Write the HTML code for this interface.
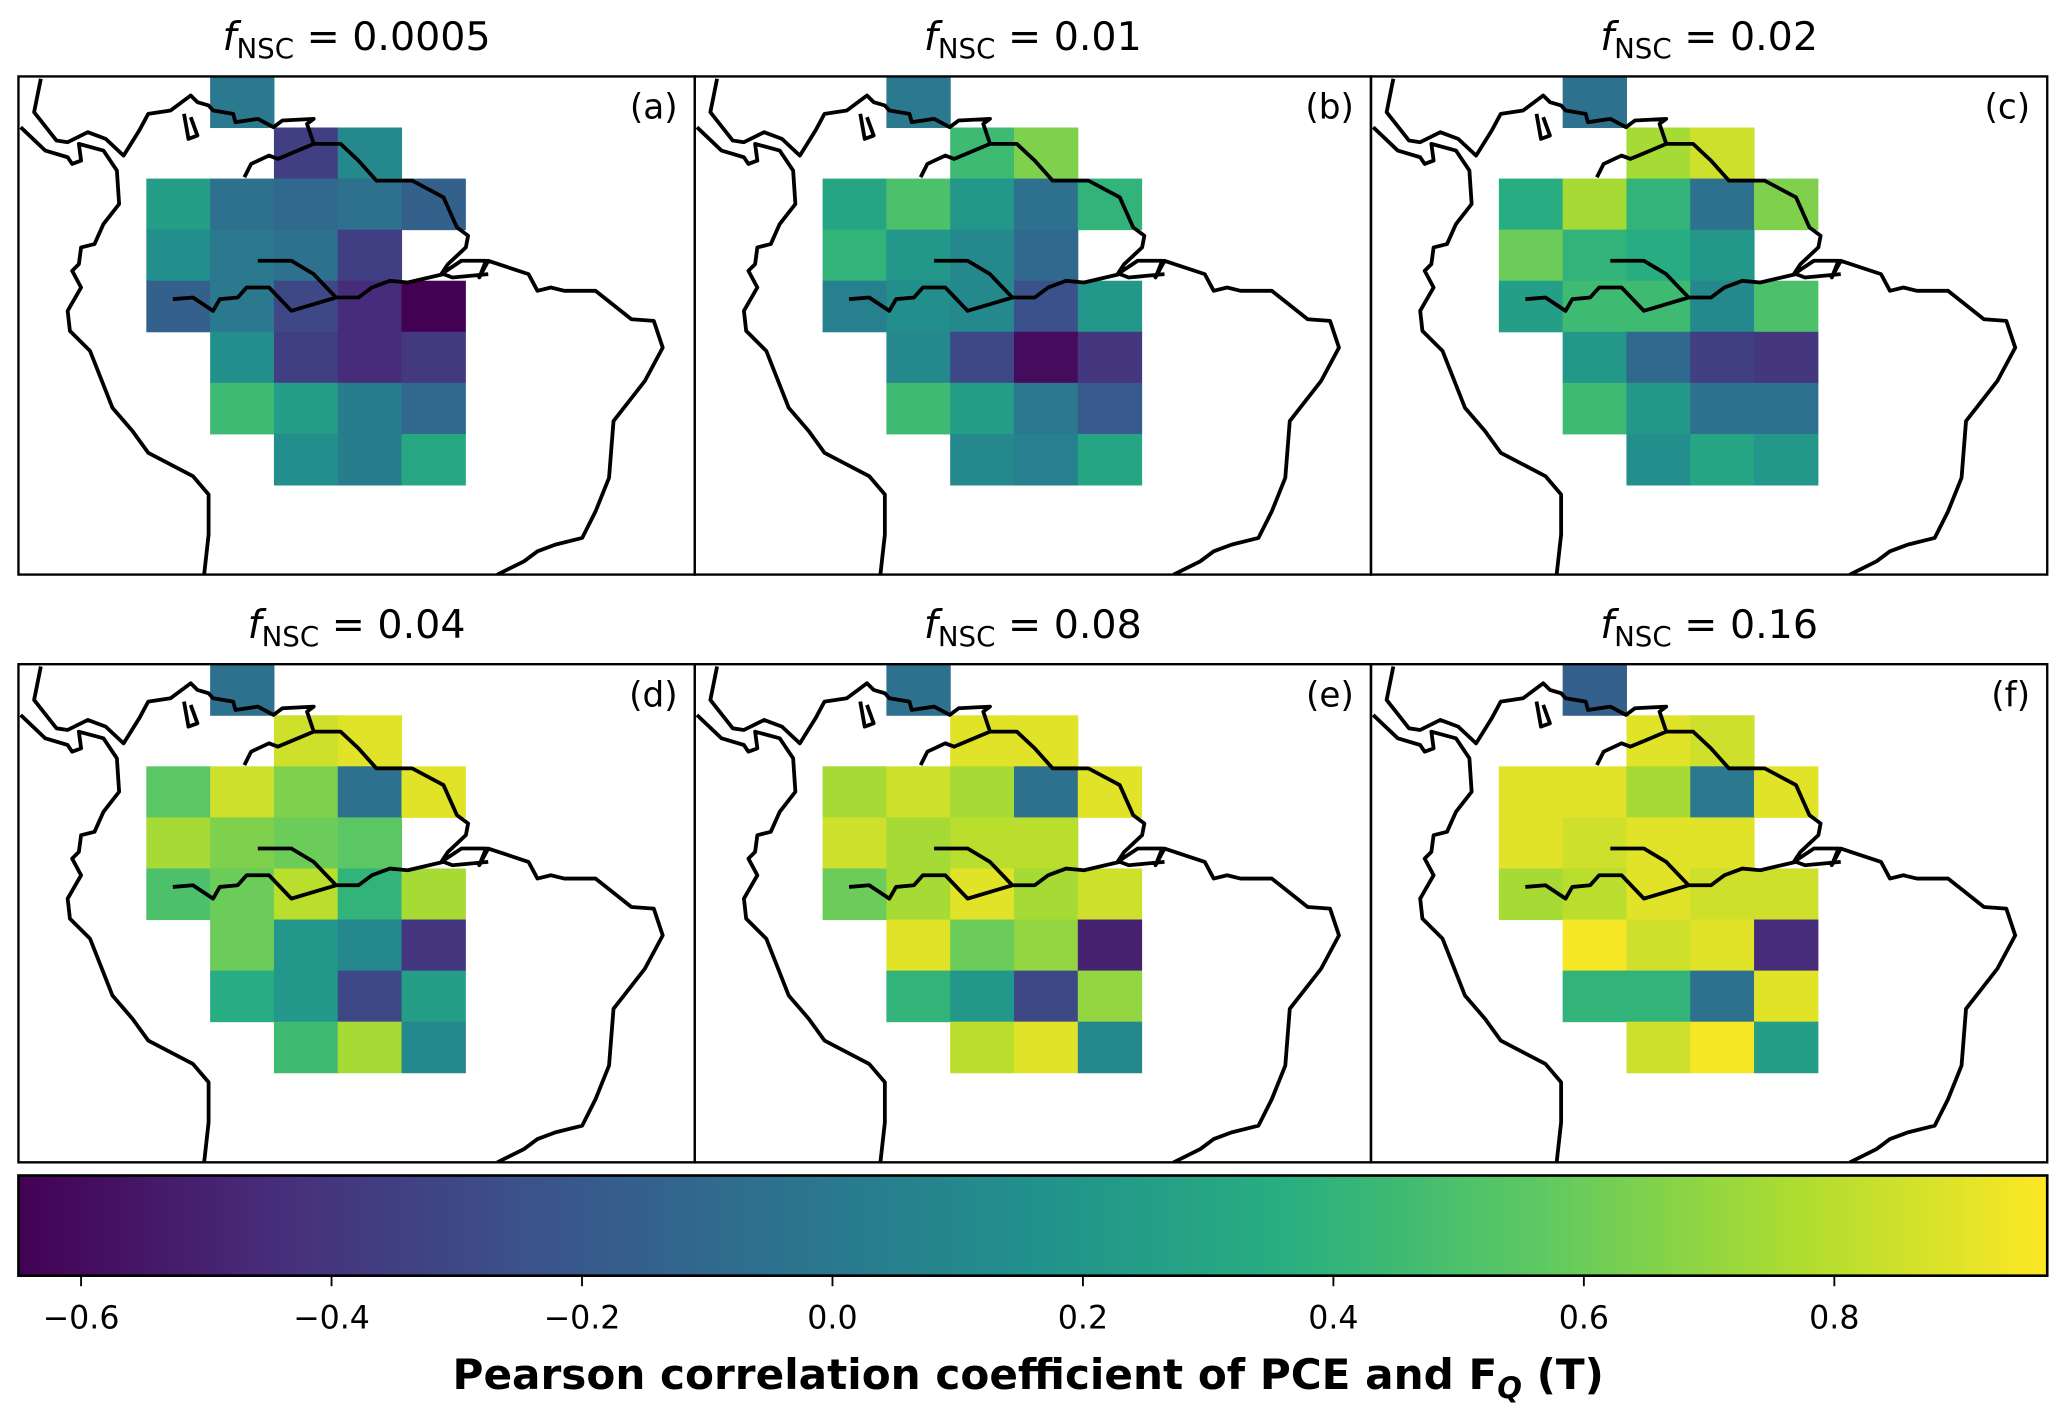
<!DOCTYPE html>
<html><head><meta charset="utf-8"><style>
html,body{margin:0;padding:0;background:#fff;}
svg{display:block;}
text{font-family:"DejaVu Sans","Liberation Sans",sans-serif;}
</style></head><body>
<svg id="fig" width="2067" height="1418" viewBox="0 0 1568 1076" preserveAspectRatio="none" xmlns="http://www.w3.org/2000/svg">
<defs>
<linearGradient id="vir" x1="0" x2="1" y1="0" y2="0">
<stop offset="0" stop-color="#440154"/><stop offset="0.125" stop-color="#472d7b"/><stop offset="0.25" stop-color="#3b528b"/><stop offset="0.375" stop-color="#2c728e"/><stop offset="0.5" stop-color="#21918c"/><stop offset="0.625" stop-color="#28ae80"/><stop offset="0.75" stop-color="#5ec962"/><stop offset="0.875" stop-color="#addc30"/><stop offset="1" stop-color="#fde725"/>
</linearGradient>
</defs>
<g id="panels"></g>
<g id="cbar"></g>
</svg>
<script>
const vmin=-0.65, vmax=0.97;
const panelTitles=["0.0005","0.01","0.02","0.04","0.08","0.16"];
const panelLabels=["(a)","(b)","(c)","(d)","(e)","(f)"];
// cell layout: row -> list of column indices
const rowCols=[[1],[2,3],[0,1,2,3,4],[0,1,2,3],[0,1,2,3,4],[1,2,3,4],[1,2,3,4],[2,3,4]];
const valsA=[[0.0],[-0.35,0.1],[0.25,-0.05,-0.1,-0.05,-0.15],[0.15,0.0,-0.05,-0.35],[-0.15,0.0,-0.3,-0.45,-0.65],[0.15,-0.35,-0.45,-0.38],[0.45,0.25,0.03,-0.1],[0.15,0.03,0.32]];
const valsB=[[0.0],[0.45,0.65],[0.3,0.5,0.2,-0.05,0.4],[0.4,0.2,0.1,-0.1],[0.05,0.15,0.1,-0.25,0.2],[0.1,-0.3,-0.6,-0.4],[0.45,0.25,0.0,-0.2],[0.1,0.05,0.3]];
const valsC=[[-0.05],[0.75,0.85],[0.35,0.75,0.4,-0.05,0.65],[0.6,0.4,0.35,0.2],[0.25,0.45,0.45,0.1,0.5],[0.2,-0.1,-0.35,-0.4],[0.45,0.2,-0.05,-0.05],[0.15,0.3,0.2]];
const valsD=[[-0.05],[0.85,0.9],[0.55,0.85,0.65,-0.05,0.9],[0.75,0.65,0.6,0.55],[0.5,0.6,0.8,0.4,0.75],[0.6,0.2,0.1,-0.4],[0.35,0.2,-0.3,0.25],[0.45,0.75,0.1]];
const valsE=[[-0.05],[0.9,0.9],[0.75,0.85,0.75,-0.05,0.9],[0.85,0.75,0.8,0.8],[0.6,0.75,0.9,0.75,0.85],[0.9,0.6,0.7,-0.5],[0.4,0.2,-0.3,0.7],[0.8,0.9,0.1]];
const valsF=[[-0.15],[0.9,0.85],[0.9,0.9,0.75,0.0,0.9],[0.9,0.85,0.9,0.9],[0.75,0.8,0.9,0.85,0.85],[0.95,0.85,0.9,-0.45],[0.4,0.4,-0.05,0.9],[0.85,0.95,0.25]];
const allVals=[valsA,valsB,valsC,valsD,valsE,valsF];
const cbTicks=[-0.6,-0.4,-0.2,0.0,0.2,0.4,0.6,0.8];
const cbTickLabels=["\u22120.6","\u22120.4","\u22120.2","0.0","0.2","0.4","0.6","0.8"];

const stops=["#440154","#472d7b","#3b528b","#2c728e","#21918c","#28ae80","#5ec962","#addc30","#fde725"];
function hex(h){return [1,3,5].map(i=>parseInt(h.substr(i,2),16));}
function viridis(v){let t=(v-vmin)/(vmax-vmin);t=Math.max(0,Math.min(1,t));const s=t*8;const i=Math.min(7,Math.floor(s));const f=s-i;const a=hex(stops[i]),b=hex(stops[i+1]);return "rgb("+a.map((x,k)=>Math.round(x+(b[k]-x)*f)).join(",")+")";}

const NS="http://www.w3.org/2000/svg";
function mk(tag,attrs,parent){const e=document.createElementNS(NS,tag);for(const k in attrs)e.setAttribute(k,attrs[k]);if(parent)parent.appendChild(e);return e;}

const PW=513, PH=378, px0=[14,527,1040], py0=[58,504];
const cellW=48.4, cellH=38.75, cellX0=97, cellY0=0;
const coast="M90,55 L75,155 L125,240 L150,245 L195,215 L235,235 L275,285 L310,210 L330,160 L380,150 L425,105 L440,125 L465,135 L475,150 L520,160 L525,185 L575,175 L610,200 L630,180 L700,175 L685,190 L700,250 L760,250 L800,300 L840,360 L920,360 L990,410 L1020,500 L1045,525 L1040,560 L1000,610 L985,640 L1030,600 L1085,600 L1070,650 L1090,600 L1180,640 L1200,690 L1230,680 L1260,690 L1330,690 L1410,775 L1460,780 L1480,860 L1440,960 L1370,1080 L1360,1250 L1330,1350 L1300,1430 L1240,1450 L1200,1470 L1170,1500 L1110,1540 M45,200 L100,270 L150,290 L160,310 L180,300 L175,250 L230,270 L260,330 L265,430 L230,490 L210,550 L180,560 L175,610 L160,630 L180,680 L150,750 L155,810 L200,870 L250,1040 L295,1110 L330,1175 L430,1245 L465,1300 L465,1420 L455,1540 M545,350 L560,310 L600,285 L620,295 L700,250 M385,715 L430,710 L475,750 L490,715 L530,710 L550,680 L600,680 L650,750 L700,730 L750,710 L800,710 L830,680 L870,660 L910,665 L990,640 L1010,650 L1090,640 M575,600 L650,600 L700,640 L750,710 M410,160 L420,235 L440,225 L425,170";

const panels=document.getElementById('panels');
allVals.forEach((vals,p)=>{
  const ox=px0[p%3], oy=py0[Math.floor(p/3)];
  const g=mk('g',{transform:`translate(${ox},${oy})`},panels);
  
  
  const clip=mk('clipPath',{id:'clip'+p},g);
  mk('rect',{x:0,y:0,width:PW,height:PH},clip);
  const inner=mk('g',{'clip-path':`url(#clip${p})`},g);
  rowCols.forEach((cols,r)=>{
    cols.forEach((c,k)=>{
      const rc=mk('rect',{x:(cellX0+c*cellW).toFixed(2),y:(cellY0+r*cellH).toFixed(2),width:cellW+0.4,height:cellH+0.4,fill:viridis(vals[r][k])},inner);
      
      
    });
  });
  const cp=mk('path',{d:coast,fill:'none',stroke:'#000','stroke-width':3.8,'stroke-linejoin':'round','vector-effect':'non-scaling-stroke',transform:'scale(0.3394,0.2534) translate(-40,-48)'},inner);
  
  
  const fr=mk('rect',{x:0,y:0,width:PW,height:PH,fill:'none',stroke:'#000','stroke-width':1.8},g);
  
  
  const lb=mk('text',{x:PW-13,y:32,'text-anchor':'end','font-size':26},g);
  lb.textContent=panelLabels[p];
  
  
  const t=mk('text',{x:PW/2,y:-20,'text-anchor':'middle','font-size':30},g);
  
  
  const f=mk('tspan',{'font-style':'italic'},t);f.textContent='f';
  const sub=mk('tspan',{'font-size':21,dy:6},t);sub.textContent='NSC';
  const rest=mk('tspan',{dy:-6},t);rest.textContent=' = '+panelTitles[p];
});

// colorbar
const cb=document.getElementById('cbar');
const cbx0=14, cbx1=1553, cby0=892, cby1=968;
function cbX(v){return cbx0+(v-vmin)/(vmax-vmin)*(cbx1-cbx0);}
const cr=mk('rect',{x:cbx0,y:cby0,width:cbx1-cbx0,height:cby1-cby0,fill:'url(#vir)',stroke:'#000','stroke-width':2},cb);


cbTicks.forEach((v,i)=>{
  const x=cbX(v);
  const l=mk('line',{x1:x,x2:x,y1:cby1,y2:cby1+8,stroke:'#000','stroke-width':1.4},cb);
  
  
  const tx=mk('text',{x:x,y:cby1+40,'text-anchor':'middle','font-size':24},cb);
  tx.textContent=cbTickLabels[i];
  
  
});
const ct=mk('text',{x:780,y:1054,'text-anchor':'middle','font-size':32,'font-weight':'bold'},cb);


const c1=mk('tspan',{},ct);c1.textContent='Pearson correlation coefficient of PCE and F';
const c2=mk('tspan',{'font-size':22,dy:7,'font-style':'italic'},ct);c2.textContent='Q';
const c3=mk('tspan',{dy:-7},ct);c3.textContent=' (T)';
</script>
</body></html>
